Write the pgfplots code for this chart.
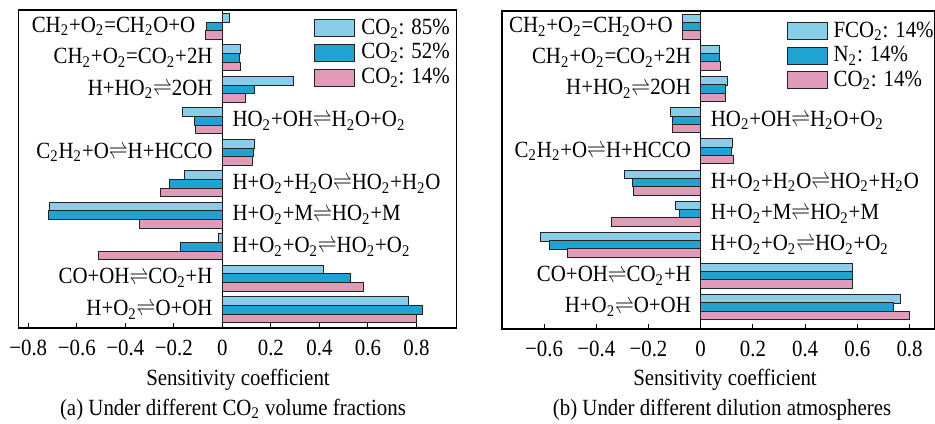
\documentclass[border=0pt]{standalone}
\usepackage{fontspec}
\setmainfont{Liberation Serif}[FakeStretch=0.9]
\usepackage{graphicx}
\usepackage{pgfplots}
\pgfplotsset{compat=1.18}
\definecolor{cA}{RGB}{137,206,232}
\definecolor{cB}{RGB}{33,163,210}
\definecolor{cC}{RGB}{224,155,185}
\definecolor{edge}{RGB}{35,35,35}
\newcommand{\s}[1]{\textsubscript{#1}}
\newcommand{\eq}{\scalebox{0.8}[1]{$\rightleftharpoons$}}
\tikzset{lab/.style={font=\fontsize{11.6}{13}\selectfont, inner sep=0pt}}
\pgfplotsset{
  panel/.style={
    anchor=south west, scale only axis,
    height=159pt,
    ymin=-0.58, ymax=9.52,
    xbar, bar width=4.3pt,
    ytick=\empty,
    xtick pos=bottom, tick align=inside,
    major tick length=2.5pt,
    tick style={black, line width=0.5pt},
    axis line style={line width=0.6pt},
    xticklabel style={yshift=-2.0pt},
    every axis plot/.append style={draw=edge, line width=0.5pt},
    legend image code/.code={\draw[#1] (0pt,-4.25pt) rectangle (20pt,4.25pt); \path (22.5pt,0pt);},
    legend cell align=left,
    legend style={draw=none, fill=none, inner sep=0pt, row sep=1.8pt,
      nodes={inner sep=0.5pt}},
    extra x ticks={0}, extra x tick labels={},
    extra x tick style={grid=major, major grid style={black, line width=0.6pt}, major tick length=0pt},
  },
}
\begin{document}
\fontsize{11.6}{13}\selectfont
\begin{tikzpicture}
\path[use as bounding box] (0,0) rectangle (467.5pt,211.5pt);
% ---------- panel (a)
\begin{axis}[panel, at={(9.15pt,47.5pt)}, width=219.2pt,
  xmin=-0.841, xmax=0.966,
  xtick={-0.8,-0.6,-0.4,-0.2,0,0.2,0.4,0.6,0.8},
  xticklabels={−0.8,−0.6,−0.4,−0.2,0,0.2,0.4,0.6,0.8},
  legend style={at={(0.6745,0.976)}, anchor=north west},
]
\addplot[fill=cA, bar shift=4.3pt] coordinates {(0.03,9) (0.075,8) (0.294,7) (-0.166,6) (0.132,5) (-0.155,4) (-0.713,3) (-0.015,2) (0.416,1) (0.768,0)};
\addplot[fill=cB, bar shift=0pt] coordinates {(-0.065,9) (0.071,8) (0.133,7) (-0.114,6) (0.128,5) (-0.217,4) (-0.717,3) (-0.172,2) (0.527,1) (0.824,0)};
\addplot[fill=cC, bar shift=-4.3pt] coordinates {(-0.071,9) (0.075,8) (0.096,7) (-0.109,6) (0.124,5) (-0.256,4) (-0.34,3) (-0.511,2) (0.583,1) (0.80,0)};
\legend{CO\s{2}: 85\%, CO\s{2}: 52\%, CO\s{2}: 14\%}
\begin{scope}[every node/.style={lab}]
\node[anchor=base east, xshift=-4.7pt, yshift=-2.85pt] at (axis cs:-0.071,9) {CH\s{2}+O\s{2}=CH\s{2}O+O};
\node[anchor=base east, xshift=-4.7pt, yshift=-2.85pt] at (axis cs:0,8) {CH\s{2}+O\s{2}=CO\s{2}+2H};
\node[anchor=base east, xshift=-4.7pt, yshift=-2.85pt] at (axis cs:0,7) {H+HO\s{2}\eq2OH};
\node[anchor=base west, xshift=4.9pt, yshift=-2.85pt] at (axis cs:0,6) {HO\s{2}+OH\eq H\s{2}O+O\s{2}};
\node[anchor=base east, xshift=-4.7pt, yshift=-2.85pt] at (axis cs:0,5) {C\s{2}H\s{2}+O\eq H+HCCO};
\node[anchor=base west, xshift=4.9pt, yshift=-2.85pt] at (axis cs:0,4) {H+O\s{2}+H\s{2}O\eq HO\s{2}+H\s{2}O};
\node[anchor=base west, xshift=4.9pt, yshift=-2.85pt] at (axis cs:0,3) {H+O\s{2}+M\eq HO\s{2}+M};
\node[anchor=base west, xshift=4.9pt, yshift=-2.85pt] at (axis cs:0,2) {H+O\s{2}+O\s{2}\eq HO\s{2}+O\s{2}};
\node[anchor=base east, xshift=-4.7pt, yshift=-2.85pt] at (axis cs:0,1) {CO+OH\eq CO\s{2}+H};
\node[anchor=base east, xshift=-4.7pt, yshift=-2.85pt] at (axis cs:0,0) {H+O\s{2}\eq O+OH};
\end{scope}
\end{axis}
% ---------- panel (b)
\begin{axis}[panel, at={(251pt,47pt)}, width=216.3pt,
  xmin=-0.761, xmax=0.896,
  xtick={-0.6,-0.4,-0.2,0,0.2,0.4,0.6,0.8},
  xticklabels={−0.6,−0.4,−0.2,0,0.2,0.4,0.6,0.8},
  legend style={at={(0.657,0.970)}, anchor=north west},
  ymin=-0.70, ymax=9.51,
]
\addplot[fill=cA, bar shift=4.1pt] coordinates {(-0.07,9) (0.072,8) (0.102,7) (-0.114,6) (0.121,5) (-0.293,4) (-0.095,3) (-0.612,2) (0.582,1) (0.764,0)};
\addplot[fill=cB, bar shift=0pt] coordinates {(-0.07,9) (0.072,8) (0.094,7) (-0.109,6) (0.119,5) (-0.261,4) (-0.083,3) (-0.58,2) (0.58,1) (0.738,0)};
\addplot[fill=cC, bar shift=-4.1pt] coordinates {(-0.07,9) (0.074,8) (0.096,7) (-0.109,6) (0.124,5) (-0.258,4) (-0.34,3) (-0.511,2) (0.581,1) (0.80,0)};
\legend{FCO\s{2}: 14\%, N\s{2}: 14\%, CO\s{2}: 14\%}
\begin{scope}[every node/.style={lab}]
\node[anchor=base east, xshift=-4.7pt, yshift=-2.85pt] at (axis cs:-0.07,9) {CH\s{2}+O\s{2}=CH\s{2}O+O};
\node[anchor=base east, xshift=-4.7pt, yshift=-2.85pt] at (axis cs:0,8) {CH\s{2}+O\s{2}=CO\s{2}+2H};
\node[anchor=base east, xshift=-4.7pt, yshift=-2.85pt] at (axis cs:0,7) {H+HO\s{2}\eq2OH};
\node[anchor=base west, xshift=4.9pt, yshift=-2.85pt] at (axis cs:0,6) {HO\s{2}+OH\eq H\s{2}O+O\s{2}};
\node[anchor=base east, xshift=-4.7pt, yshift=-2.85pt] at (axis cs:0,5) {C\s{2}H\s{2}+O\eq H+HCCO};
\node[anchor=base west, xshift=4.9pt, yshift=-2.85pt] at (axis cs:0,4) {H+O\s{2}+H\s{2}O\eq HO\s{2}+H\s{2}O};
\node[anchor=base west, xshift=4.9pt, yshift=-2.85pt] at (axis cs:0,3) {H+O\s{2}+M\eq HO\s{2}+M};
\node[anchor=base west, xshift=4.9pt, yshift=-2.85pt] at (axis cs:0,2) {H+O\s{2}+O\s{2}\eq HO\s{2}+O\s{2}};
\node[anchor=base east, xshift=-4.7pt, yshift=-2.85pt] at (axis cs:0,1) {CO+OH\eq CO\s{2}+H};
\node[anchor=base east, xshift=-4.7pt, yshift=-2.85pt] at (axis cs:0,0) {H+O\s{2}\eq O+OH};
\end{scope}
\end{axis}
% ---------- axis titles and captions
\node[lab, anchor=base] at (119pt,19pt) {Sensitivity coefficient};
\node[lab, anchor=base] at (116.5pt,4pt) {(a) Under different CO\s{2} volume fractions};
\node[lab, anchor=base] at (362.5pt,19pt) {Sensitivity coefficient};
\node[lab, anchor=base] at (361pt,4pt) {(b) Under different dilution atmospheres};
\end{tikzpicture}
\end{document}
